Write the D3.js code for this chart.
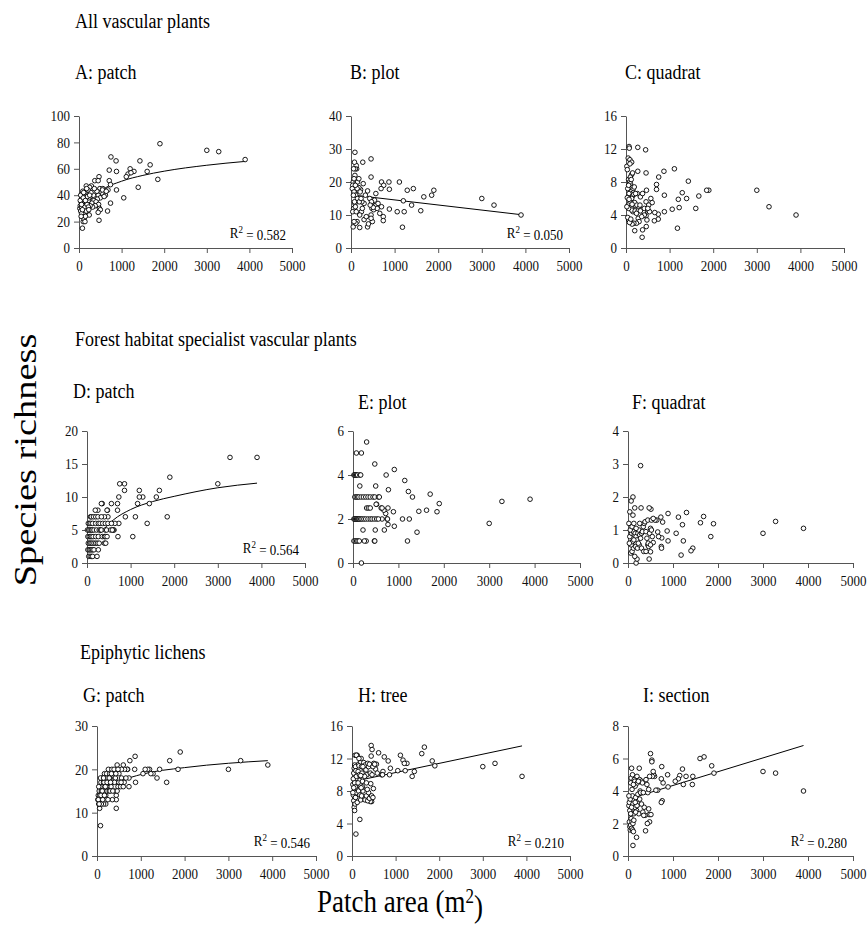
<!DOCTYPE html>
<html>
<head>
<meta charset="utf-8">
<script src="https://cdn.jsdelivr.net/npm/d3@7"></script>
<style>
  body { margin: 0; background: #fff; }
  svg, svg text { font-family: "Liberation Serif", "Times New Roman", serif; }
</style>
</head>
<body>
<div id="chart"></div>
<script>
// x = patch area (m2), y = species richness
const patchAll = [[1900,79],[3000,74],[3280,73],[3900,67],[750,69],[870,66],[1430,66],[1670,63],[710,59],[1200,60],[880,58],[1290,58],[1600,58],[1150,56],[1220,57],[1110,54],[1850,52],[470,54],[370,51],[450,51],[710,51],[740,48],[1390,46],[880,44],[1050,38],[740,34],[670,28],[470,21],[80,15],
  [170,47],[290,47],[250,46],[490,45],[560,45],[680,44],[600,43],[520,42],[560,41],[450,40],[620,40],[500,38],[430,37],[350,36],[400,35],[300,34],[460,33],[480,30],[500,29],[450,27],[380,32],[320,31],[260,32],[340,40],[280,42],[420,43],[550,44],[640,43],[590,39],[360,45],
  [20,30],[30,32],[40,28],[50,35],[60,31],[70,38],[80,41],[90,36],[100,33],[110,29],[120,27],[130,39],[140,35],[150,42],[160,30],[170,37],[180,34],[190,40],[200,28],[210,44],[220,36],[230,38],[240,25],[100,20],[120,22],[150,24],[60,26],[30,36],[40,40],[50,24],[90,43],[110,42],[130,31],[140,20],[170,28],[190,33],[200,39],[220,31],[180,45],[60,33],[80,29],[100,38],[150,36],[250,40],[230,29]];
const plotAll = [[3000,15],[3280,13],[3900,10],[1900,17.5],[1850,16],[1670,15.5],[1430,18],[1290,17.5],[1390,13],[1600,11.3],[1200,14.3],[1220,11],[1180,6.3],[1110,20],[1060,11],[870,20],[880,17.8],[880,11.8],[700,20],[750,19],[690,18],[740,9.5],[740,8.3],[660,10.5],[700,12.5],[570,16.5],[460,21.5],[460,27],[270,26],[90,29],
  [380,6.4],[200,6.2],[50,6.4],[400,7.3],[300,8.6],[350,9.5],[460,10],[480,12],[500,13],[520,11.6],[560,12.8],[600,12],[620,13.5],[540,14.5],[430,15],[470,14],[380,17.3],[330,16],[300,13.5],[250,14],[280,19.5],[240,11],[200,10],[220,17.7],[180,18.3],[160,17.5],[140,18],[130,24],[120,25],[100,24],[90,22],[80,26],[60,24],[50,20],[40,19],[30,18],[70,17],[110,16],[150,15],[190,14],[90,13.5],[60,12],[40,11],[120,11],[80,14],[100,12.5],[140,8],[110,7.5],[70,8],[120,20],[150,20],[180,21],[210,17],[230,15],[260,12],[490,8],[460,9],[510,12.3],[440,13],[100,19],[70,21],[55,16]];
const quadratAll = [[3000,7],[3280,5],[3900,4],[1900,7],[1850,7],[1670,6.3],[1600,4.8],[1430,8.1],[1390,6],[1290,6.7],[1220,4.9],[1200,5.9],[1180,2.4],[1110,9.6],[1060,4.7],[870,9.3],[880,6.4],[880,4.4],[750,8.6],[700,7.7],[700,7.1],[740,4.1],[740,3.5],[660,4.3],[650,3.3],[570,6],[600,5.5],[450,11.9],[460,9.1],[470,7],[460,5.6],[460,3.9],[465,2.6],[380,2.2],[370,1.3],[270,12.2],[270,9.3],[200,2.1],[70,12.3],[75,12.1],[20,9.9],[50,10.9],[90,10.7],[130,10.4],
  [30,9.5],[60,8.3],[80,8],[100,7.8],[120,7.5],[140,7.3],[160,7.1],[110,6.8],[70,6.6],[40,7.2],[150,6.3],[170,6.7],[130,6],[90,5.5],[50,5.2],[120,5],[200,5.5],[230,4.7],[250,5.2],[300,4.8],[320,5.2],[350,4.6],[400,4.4],[420,4.8],[500,4.6],[520,5.2],[540,4.4],[280,3.6],[300,3.2],[240,3],[180,3],[140,2.9],[100,3.3],[60,3.4],[40,3.7],[80,3.1],[110,3.5],[160,4.4],[130,4.6],[60,4.8],[20,5],[210,4.5],[260,6.6],[330,6.2],[380,6.6],[420,4],[480,3.4],[500,4.8],[130,8.9],[90,10.2],[100,8.6],[150,9.1],[60,7.6],[120,8.3],[30,6.1],[70,5.9],[180,6.5],[190,7.4],[140,5.3],[220,6.6],[280,4.5],[360,3.8],[330,4.5],[240,4.2]];
const patchForest = [[3900,16],[3280,16],[3000,12],[1900,13],[1840,7],[1660,11],[1590,10],[1380,6],[1430,9],[1280,10],[1200,10],[1200,11],[1160,9],[1110,7],[1050,4],[860,12],[860,11],[750,12],[730,10],[700,9],[700,8],[880,7],[710,4],[730,6],[640,6],[620,5],[600,5],[560,9],[350,9],[250,8],[470,8],[460,8],[480,7],[400,7],
  [80,7],[100,7],[150,7],[200,7],[250,7],[330,7],
  [30,6],[60,6],[90,6],[130,6],[200,6],[260,6],[300,6],[360,6],[420,6],[480,6],[560,6],
  [10,5],[40,5],[70,5],[100,5],[120,5],[160,5],[220,5],[280,5],[310,5],[330,5],[420,5],[450,5],[540,5],[580,5],
  [20,4],[50,4],[80,4],[110,4],[140,4],[200,4],[260,4],[350,4],[400,4],[420,4],[460,4],
  [30,3],[60,3],[90,3],[120,3],[160,3],[200,3],[240,3],[280,3],[400,3],[430,3],
  [20,2],[50,2],[70,2],[100,2],[130,2],[160,2],[260,2],
  [40,1],[70,1],[100,1],[130,1],[230,1],[190,8],[330,9]];
const plotForest = [[3900,2.9],[3280,2.8],[3000,1.8],[1900,2.7],[1850,2.33],[1700,3.13],[1620,2.4],[1450,2.35],[1410,1.4],[1310,3],[1220,3.25],[1140,3.75],[1240,2],[1090,2],[1200,1],[910,4.25],[890,2.33],[910,1.67],[780,3.33],[730,4],[770,2.5],[770,1.75],[750,2],[760,2],[720,2.25],[680,2.4],[620,2.5],[640,2.5],[640,2],[690,1.5],[490,1.5],[470,1],[480,1],[500,3.5],[480,4.5],[520,2.67],[300,5.5],[185,5],[75,5],[150,3.5],[220,1.5],[290,1],[185,0],
  [20,4],[40,4],[60,4],[80,4],[100,4],[150,4],[170,4],
  [40,3],[70,3],[100,3],[130,3],[180,3],[230,3],[280,3],[330,3],[380,3],[440,3],[480,3],[560,3],[580,3],
  [300,2.5],[340,2.5],[380,2.5],
  [20,2],[40,2],[60,2],[80,2],[100,2],[120,2],[140,2],[170,2],[200,2],[240,2],[280,2],[330,2],[380,2],[420,2],[470,2],[520,2],[560,2],
  [20,1],[50,1],[80,1],[110,1],[140,1],[250,1],[510,2.67]];
const quadratForest = [[3900,1.05],[3280,1.26],[3000,0.9],[1900,1.19],[1840,0.8],[1680,1.41],[1610,1.22],[1440,0.45],[1400,0.37],[1300,1.53],[1210,1.16],[1230,0.67],[1120,1.39],[1180,0.24],[1070,0.9],[890,1.5],[870,0.97],[890,0.67],[770,1.24],[730,1.39],[750,0.76],[740,0.5],[745,0.45],[660,0.94],[680,0.8],[640,1.3],[600,1.3],[560,0.62],[500,0.34],[470,0.12],[510,1.63],[470,1.67],[280,2.95],[290,1.67],[150,1.67],[110,2],[70,1.88],[40,1.55],[110,1.45],[180,0],[200,0.12],
  [20,1.2],[40,0.8],[60,0.6],[80,0.9],[100,1],[120,0.95],[140,0.85],[160,0.9],[180,0.8],[200,0.7],[220,0.9],[240,1],[260,0.85],[280,0.75],[300,0.9],[320,0.95],[340,1.1],[360,1.2],[380,1.25],[400,0.95],[420,0.75],[440,0.55],[460,0.5],[480,0.9],[500,1.05],[520,1],[540,0.8],[60,0.3],[90,0.35],[120,0.45],[150,0.2],[70,0.55],[100,0.65],[130,0.7],[170,0.5],[210,0.45],[250,0.55],[300,0.45],[350,0.35],[400,0.35],[450,0.6],[30,0.6],[50,1],[90,1.1],[130,1.2],[180,1.05],[230,0.6],[260,1.2],[440,1.3],[500,0.55],[520,1.3],[560,1.35]];
const patchLichen = [[3900,21],[3280,22],[3000,20],[1900,24],[1850,20],[1660,22],[1590,17],[1430,20],[1370,18],[1280,19],[1230,19],[1200,20],[1160,20],[1100,20],[1050,19],[870,23],[860,20],[880,17],[750,22],[730,18],[730,16],[700,20],[690,20],[630,20],[600,21],[560,20],[460,21],[440,11],[80,7],[60,11],
  [20,13],[30,14],[40,12],[50,15],[60,13],[70,16],[80,14],[90,17],[100,15],[110,13],[120,18],[130,16],[140,14],[150,17],[160,15],[170,19],[180,16],[190,18],[200,14],[210,17],[220,19],[230,15],[240,18],[250,16],[260,20],[270,17],[280,15],[290,19],[300,18],[320,16],[340,20],[360,17],[380,19],[400,15],[420,18],[440,14],[460,17],[480,16],[500,19],[520,17],[540,16],[560,18],[580,17],[600,16],[620,17],[660,18],[440,13],[460,15],[400,17],[350,13],[300,15],[250,13],[200,12],[150,12],[100,12],[60,14],[40,16],[80,18],[120,15],[160,17],[220,16],[280,18],[330,19],[360,15],[390,20],[430,19],[480,20],[500,17],[550,17],[30,13],[50,12],[90,14],[130,13],[170,14],[190,16],[230,17],[310,17],[150,18]];
const treeLichen = [[3900,9.8],[3280,11.4],[3000,11],[1900,11.1],[1840,11.7],[1660,13.4],[1600,12.6],[1430,10.4],[1380,9.8],[1260,11.4],[1170,11.8],[1200,11.4],[1110,12.4],[1050,10.5],[1220,10.5],[880,10.8],[860,10],[830,11.7],[740,12.2],[710,10.4],[680,10],[700,10],[610,12.7],[540,10.7],[560,11.3],[440,13.6],[460,13.1],[440,12.3],[430,8.9],[490,8.3],[450,6.7],[420,6.7],[90,2.7],[180,4.5],
  [20,8.8],[30,9.5],[40,10.2],[50,10.8],[60,11.2],[70,12.4],[80,11],[90,10.5],[100,9.8],[110,9],[120,8.2],[130,7.6],[140,10.4],[150,11.3],[160,11.1],[170,10],[180,9.3],[190,8.8],[200,11.6],[210,12],[220,11],[230,10.2],[240,9.2],[250,8],[260,7],[270,11.5],[280,10.8],[300,11.2],[320,10.6],[340,10],[360,11.4],[380,11],[400,11.3],[420,10.2],[460,10],[480,11],[500,11.4],[520,11.3],[580,10.2],[30,7.5],[40,6.8],[50,6],[60,5.6],[70,6.4],[80,7.2],[100,7.8],[120,6.6],[150,8],[180,7.5],[200,6.9],[220,7.4],[240,8.5],[300,6.9],[330,7.4],[360,6.8],[380,7.8],[400,7.1],[60,9],[80,8.5],[120,12.4],[100,12.4],[160,12],[250,11],[290,9.8],[330,9],[20,7.8],[40,8.4],[140,9],[200,9.9],[210,8.4],[350,8.2],[450,7.4],[480,7.2]];
const sectionLichen = [[3900,4],[3280,5.1],[3000,5.2],[1910,5.1],[1860,5.55],[1690,6.1],[1600,6],[1430,4.4],[1440,4.9],[1290,4.9],[1230,4.4],[1210,5.35],[1150,4.95],[1120,4.75],[1050,4.6],[890,4.25],[880,5],[780,4.5],[740,4.75],[750,5.5],[760,3.4],[740,3.3],[660,4.05],[620,4.05],[590,4.9],[570,5],[540,4.9],[500,6.3],[530,5.9],[530,5.8],[560,5.2],[460,2.9],[470,2.55],[510,2.55],[480,2.1],[430,2],[390,1.55],[190,1.15],[110,0.65],
  [20,3.1],[30,3.3],[40,2.8],[50,3.5],[60,4.5],[70,4.8],[80,5.4],[90,4.1],[100,3.7],[110,3.2],[120,2.9],[130,2.6],[140,4.7],[150,4.6],[160,4.3],[170,3.6],[180,3.1],[190,2.8],[200,4.9],[210,4.5],[220,3.8],[230,3.2],[240,2.6],[250,5.4],[260,4.7],[270,4],[280,3.9],[300,4.6],[320,4.5],[340,3.9],[360,3],[380,2.5],[400,4.7],[420,4.4],[440,3.9],[460,4.1],[480,4.9],[30,2.1],[40,1.8],[50,1.6],[60,1.9],[70,2.3],[80,1.7],[90,2.1],[100,1.6],[110,2],[120,1.5],[130,2.2],[150,3],[170,2.7],[200,3.1],[60,2.6],[80,3],[100,5],[120,4.4],[160,3.3],[230,4.6],[260,3.5],[300,3.2],[330,2.7],[350,2.5],[20,3.7]];

// trend lines (null = none drawn)
const trendA = [[100,25],[250,35.3],[500,43],[1000,50.6],[1500,55],[2000,58.2],[3000,62.7],[3900,65.6]];
const trendB = [[10,16.1],[3900,10.1]];
const trendD = [[300,4.5],[600,6.5],[1000,8.1],[1500,9.3],[2000,10.1],[3000,11.4],[3900,12.1]];
const trendG = [[150,14.2],[300,15.9],[600,17.5],[1000,18.8],[2000,20.4],[3000,21.4],[3900,22]];
const trendH = [[10,9.15],[3900,13.55]];
const trendI = [[10,3.5],[3900,6.8]];

const xTicks = [0, 1000, 2000, 3000, 4000, 5000];
const yTicks = [[0,20,40,60,80,100],[0,10,20,30,40],[0,4,8,12,16],
                [0,5,10,15,20],[0,2,4,6],[0,1,2,3,4],
                [0,10,20,30],[0,4,8,12,16],[0,2,4,6,8]];
const panelData = [patchAll, plotAll, quadratAll, patchForest, plotForest, quadratForest, patchLichen, treeLichen, sectionLichen];
const trends = [trendA, trendB, null, trendD, null, null, trendG, trendH, trendI];
const rSquared = ["0.582", "0.050", null, "0.564", null, null, "0.546", "0.210", "0.280"];
const panelLabels = ["A: patch","B: plot","C: quadrat","D: patch","E: plot","F: quadrat","G: patch","H: tree","I: section"];
const groupTitles = ["All vascular plants", "Forest habitat specialist vascular plants", "Epiphytic lichens"];

// layout (pixels)
const W = 867, H = 937;
const STRETCH = 1.2;
const FONT = "'Liberation Serif', 'Times New Roman', serif";
const frames = [
  {l: 79, r: 292, t: 116, b: 248}, {l: 351, r: 569, t: 116, b: 248}, {l: 626, r: 844, t: 116, b: 248},
  {l: 87, r: 305, t: 431, b: 563}, {l: 353, r: 580, t: 431, b: 563}, {l: 628, r: 853, t: 431, b: 563},
  {l: 97, r: 316, t: 726, b: 856}, {l: 352, r: 570, t: 726, b: 856}, {l: 628, r: 853, t: 726, b: 856}
];
const labelPos = [[75,79],[350,79],[625,79],[73,398],[358,409],[632,409],[83,702],[358,702],[643,702]];
const titlePos = [[75,28],[75,346],[80,659]];

const svg = d3.select("#chart").append("svg")
  .attr("width", W).attr("height", H);

function addText(parent, x, y, str, size, anchor) {
  return parent.append("text")
    .attr("transform", `translate(${x},${y}) scale(1,${STRETCH})`)
    .attr("text-anchor", anchor || "start")
    .style("font-family", FONT)
    .style("font-size", size + "px")
    .text(str);
}

groupTitles.forEach((t, i) => addText(svg, titlePos[i][0], titlePos[i][1], t, 18));
panelLabels.forEach((t, i) => addText(svg, labelPos[i][0], labelPos[i][1], t, 18));

panelData.forEach((pts, i) => {
  const f = frames[i];
  const ticks = yTicks[i];
  const x = d3.scaleLinear().domain([0, 5000]).range([f.l, f.r]);
  const y = d3.scaleLinear().domain([0, d3.max(ticks)]).range([f.b, f.t]);
  const g = svg.append("g");

  const yAxis = g.append("g")
    .attr("transform", `translate(${f.l},0)`)
    .call(d3.axisLeft(y).tickValues(ticks).tickFormat(d3.format("d"))
      .tickSize(5).tickSizeOuter(0).tickPadding(4));
  const xAxis = g.append("g")
    .attr("transform", `translate(0,${f.b})`)
    .call(d3.axisBottom(x).tickValues(xTicks).tickFormat(d3.format("d"))
      .tickSize(5).tickSizeOuter(0).tickPadding(5));

  [yAxis, xAxis].forEach(ax => {
    ax.attr("font-family", FONT).attr("font-size", 13);
    ax.select(".domain").attr("stroke", "#555");
    ax.selectAll(".tick line").attr("stroke", "#555");
    ax.selectAll("text")
      .attr("fill", "#111")
      .style("font-family", FONT)
      .style("font-size", "13px");
  });
  yAxis.selectAll("text").attr("transform", `scale(1,${STRETCH})`).attr("dy", "0.3em");
  xAxis.selectAll("text").attr("transform", `scale(1,${STRETCH})`);

  if (trends[i]) {
    const line = d3.line().x(d => x(d[0])).y(d => y(d[1])).curve(d3.curveMonotoneX);
    g.append("path").datum(trends[i])
      .attr("d", line).attr("fill", "none").attr("stroke", "#000").attr("stroke-width", 1);
  }

  g.selectAll("circle").data(pts).enter().append("circle")
    .attr("cx", d => x(d[0])).attr("cy", d => y(d[1]))
    .attr("r", 2.3)
    .attr("fill", "#fff").attr("stroke", "#000").attr("stroke-width", 0.9);

  if (rSquared[i]) {
    const t = g.append("text")
      .attr("transform", `translate(${f.r - 6},${f.b - 10}) scale(1,${STRETCH})`)
      .attr("text-anchor", "end")
      .style("font-family", FONT)
      .style("font-size", "13px");
    t.append("tspan").text("R");
    t.append("tspan").attr("dy", "-0.45em").style("font-size", "9px").text("2");
    t.append("tspan").attr("dy", "0.45em").text(" = " + rSquared[i]);
  }
});

// axis titles
svg.append("text")
  .attr("transform", `translate(36,460) scale(1,${STRETCH}) rotate(-90)`)
  .attr("text-anchor", "middle")
  .style("font-family", FONT)
  .style("font-size", "32px")
  .text("Species richness");

const xt = svg.append("text")
  .attr("transform", `translate(400,912) scale(1,${STRETCH})`)
  .attr("text-anchor", "middle")
  .style("font-family", FONT)
  .style("font-size", "27px");
xt.append("tspan").text("Patch area (m");
xt.append("tspan").attr("dy", "-0.45em").style("font-size", "17px").text("2");
xt.append("tspan").attr("dy", "0.45em").text(")");
</script>
</body>
</html>
